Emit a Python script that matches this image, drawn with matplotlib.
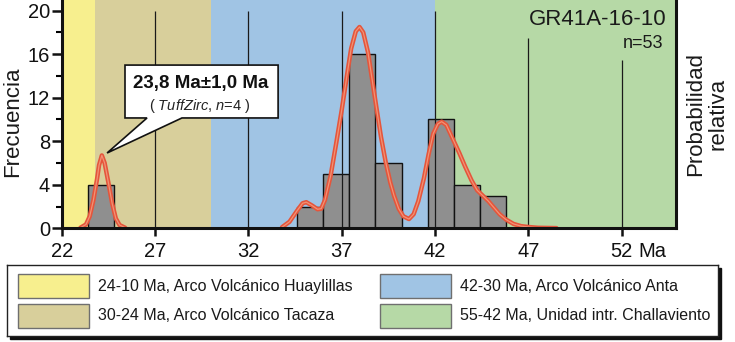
import matplotlib
matplotlib.use("Agg")
import matplotlib.pyplot as plt
from matplotlib.patches import Polygon, Rectangle
import numpy as np

plt.rcParams["font.family"] = ["Liberation Sans", "DejaVu Sans"]
plt.rcParams["mathtext.fontset"] = "custom"
plt.rcParams["mathtext.rm"] = "Liberation Sans"
plt.rcParams["mathtext.it"] = "Liberation Sans:italic"

# --- data ---
sample_name = "GR41A-16-10"
sample_n = 53

# histogram (bin left edges in Ma, bin width 1.4 Ma)
bin_left = [23.4, 34.6, 36.0, 37.4, 38.8, 41.6, 43.0, 44.4]
bin_count = [4, 2, 5, 16, 6, 10, 4, 3]
bin_width = 1.4

# relative probability curve (scaled to the frequency axis)
curve_age = [22.6, 23.0, 23.3, 23.5, 23.7, 23.9, 24.0, 24.15, 24.3, 24.5, 24.7,
             24.9, 25.1, 25.4, 25.8, 33.4, 33.8, 34.2, 34.6, 34.9, 35.1, 35.4,
             35.7, 35.9, 36.1, 36.4, 36.7, 37.0, 37.3, 37.5, 37.75, 37.95, 38.15,
             38.4, 38.65, 38.9, 39.1, 39.35, 39.6, 39.8, 40.05, 40.3, 40.6, 40.85,
             41.1, 41.4, 41.65, 41.9, 42.15, 42.35, 42.6, 42.95, 43.3, 43.6, 43.95,
             44.25, 44.55, 44.85, 45.15, 45.45, 45.8, 46.2, 46.6, 47.0, 47.5, 48.5,
             50.0]
curve_prob = [0.0, 0.05, 0.35, 1.1, 2.6, 4.6, 5.8, 6.7, 6.0, 4.2, 2.3,
              0.9, 0.3, 0.05, 0.0, 0.0, 0.1, 0.6, 1.6, 2.3, 2.4, 2.1,
              1.75, 1.8, 2.6, 4.8, 7.8, 10.9, 14.3, 16.5, 18.1, 18.5, 18.0,
              16.2, 13.4, 10.6, 8.4, 6.1, 4.2, 3.0, 1.8, 1.1, 0.85, 1.3,
              2.5, 4.6, 6.8, 8.7, 9.6, 9.8, 9.5, 8.2, 6.9, 5.7, 4.4,
              3.5, 3.0, 2.5, 1.9, 1.3, 0.8, 0.4, 0.2, 0.12, 0.05, 0.02,
              0.0]

# volcanic arc age ranges (Ma) shown as background bands
band_start = [22.0, 23.8, 30.0, 42.0]
band_end = [23.8, 30.0, 42.0, 55.0]
band_color = ["#f7ef8e", "#d8cf9b", "#a0c4e4", "#b6d9a6"]
band_label = ["24-10 Ma, Arco Volcánico Huaylillas",
              "30-24 Ma, Arco Volcánico Tacaza",
              "42-30 Ma, Arco Volcánico Anta",
              "55-42 Ma, Unidad intr. Challaviento"]

x_ticks = [22, 27, 32, 37, 42, 47, 52]
y_ticks = [0, 4, 8, 12, 16, 20]
y_minor = [2, 6, 10, 14, 18]
guide_top = [20, 20, 20, 20, 17.5, 15.5]

age_label = "23,8 Ma±1,0 Ma"
age_method = r"( $\it{TuffZirc}$, $\it{n}$=4 )"


def draw_main(fig):
    ax = fig.add_axes([61.7 / 735, (342 - 228.3) / 342, (676 - 61.7) / 735, 228.3 / 342])
    ax.set_xlim(22, 54.9)
    ax.set_ylim(0, 20.98)

    for s, e, c in zip(band_start, band_end, band_color):
        ax.axvspan(s, e, color=c, lw=0, zorder=0)

    ax.bar(bin_left, bin_count, width=bin_width, align="edge", color="#8f8f8f",
           edgecolor="#111111", linewidth=1.0, zorder=2)

    ax.vlines(x_ticks[1:], 0, guide_top, color="#1a1a1a", lw=0.9, zorder=2.6)

    # hide the stretches where the curve lies flat on the axis
    prob = np.ma.masked_less_equal(np.array(curve_prob), 0.0)
    ax.plot(curve_age, prob, color="#e5553b", lw=3.2, zorder=3,
            solid_capstyle="round")
    ax.plot(curve_age, prob, color="#f29275", lw=0.9, zorder=3.1)

    # callout bubble
    x0, x1, y0, y1 = 25.39, 33.59, 10.14, 15.0
    bubble = Polygon([(x0, y0), (26.57, y0), (24.43, 6.92), (28.44, y0), (x1, y0),
                      (x1, y1), (x0, y1)], closed=True, facecolor="white",
                     edgecolor="#111111", lw=1.2, zorder=4)
    ax.add_patch(bubble)
    ax.text(29.46, 13.33, age_label, ha="center", va="center", fontsize=13.5,
            fontweight="bold", color="#111111", zorder=5)
    ax.text(29.4, 11.27, age_method, ha="center", va="center", fontsize=10.5,
            color="#222222", zorder=5)

    ax.text(0.984, 0.915, sample_name, transform=ax.transAxes, ha="right",
            va="center", fontsize=16, color="#1a1a1a")
    ax.text(0.979, 0.81, f"n={sample_n}", transform=ax.transAxes, ha="right",
            va="center", fontsize=13, color="#1a1a1a")

    ax.set_xticks(x_ticks)
    ax.set_xticklabels([str(t) for t in x_ticks])
    ax.set_yticks(y_ticks)
    ax.set_yticks(y_minor, minor=True)
    ax.tick_params(axis="x", length=6, width=1.8, pad=4, labelsize=14.5, colors="#111111")
    ax.tick_params(axis="y", which="major", length=7, width=1.8, pad=1.5,
                   labelsize=14.5, colors="#111111")
    ax.tick_params(axis="y", which="minor", length=4, width=1.5)
    ax.annotate("Ma", xy=(52, 0), xycoords=("data", "axes fraction"),
                xytext=(12, -10), textcoords="offset points", ha="left",
                va="top", fontsize=14.5, color="#111111")

    ax.spines["top"].set_visible(False)
    for side in ("left", "bottom", "right"):
        ax.spines[side].set_linewidth(2.2)
        ax.spines[side].set_color("#111111")
        ax.spines[side].set_zorder(6)


def draw_legend(fig):
    left, bottom = 7 / 735, (342 - 336) / 342
    w, h = 711 / 735, 71 / 342
    fig.add_artist(Rectangle((left + 3 / 735, bottom - 3 / 342), w, h,
                             transform=fig.transFigure, color="#111111", zorder=-1))
    lax = fig.add_axes([left, bottom, w, h])
    lax.set_xlim(0, 1)
    lax.set_ylim(0, 1)
    lax.set_xticks([])
    lax.set_yticks([])
    lax.set_facecolor("white")
    for sp in lax.spines.values():
        sp.set_linewidth(1.0)
        sp.set_color("#222222")

    col_x = [0.0155, 0.5246]
    row_y = [0.53, 0.11]
    sw_w, sw_h = 0.0995, 0.345
    for i, (c, lab) in enumerate(zip(band_color, band_label)):
        cx = col_x[i // 2]
        ry = row_y[i % 2]
        lax.add_patch(Rectangle((cx, ry), sw_w, sw_h, facecolor=c,
                                edgecolor="#6f6f6f", lw=1.0))
        lax.text(cx + sw_w + 0.0125, ry + sw_h / 2, lab, ha="left", va="center",
                 fontsize=11.5, color="#1a1a1a")


def main():
    fig = plt.figure(figsize=(7.35, 3.42), dpi=100)
    draw_main(fig)
    draw_legend(fig)
    fig.text(13 / 735, (342 - 122) / 342, "Frecuencia", rotation=90, ha="center",
             va="center", fontsize=16, color="#1a1a1a")
    fig.text(707 / 735, (342 - 114) / 342, "Probabilidad\nrelativa", rotation=90,
             ha="center", va="center", fontsize=16, linespacing=1.1,
             multialignment="center", color="#1a1a1a")
    fig.savefig("out.png", dpi=100)
    plt.close(fig)


if __name__ == "__main__":
    main()
